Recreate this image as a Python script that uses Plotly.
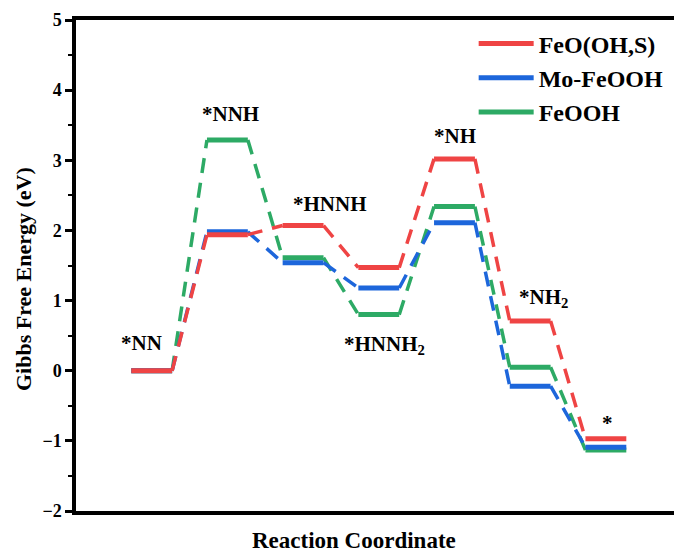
import plotly.graph_objects as go

states = ["*NN", "*NNH", "*HNNH", "*HNNH<sub>2</sub>", "*NH", "*NH<sub>2</sub>", "*"]
feo_ohs = [0, 1.94, 2.07, 1.47, 3.02, 0.71, -0.97]
mo_feooh = [0, 1.98, 1.54, 1.18, 2.11, -0.22, -1.09]
feooh = [0, 3.29, 1.61, 0.80, 2.34, 0.05, -1.13]

label_x = [0.87, 2.04, 3.36, 4.08, 5.01, 6.18, 7.02]
label_y = [0.40, 3.66, 2.37, 0.36, 3.35, 1.04, -0.74]

series = [
    ("FeOOH", feooh, "#2DAA65", 3),
    ("Mo-FeOOH", mo_feooh, "#1D66DB", 2),
    ("FeO(OH,S)", feo_ohs, "#EF4444", 1),
]

HW = 0.27
FONT = "Times New Roman"

fig = go.Figure()
for name, vals, color, rank in series:
    lx, ly = [], []
    for i, v in enumerate(vals):
        c = i + 1
        lx += [c - HW, c + HW, None]
        ly += [v, v, None]
    cx, cy = [], []
    for i in range(len(vals) - 1):
        cx += [i + 1 + HW, i + 2 - HW, None]
        cy += [vals[i], vals[i + 1], None]
    fig.add_trace(go.Scatter(x=cx, y=cy, mode="lines", showlegend=False,
                             line=dict(color=color, width=3.5, dash="15px,10px"),
                             hoverinfo="skip"))
    fig.add_trace(go.Scatter(x=lx, y=ly, mode="lines", name=name, legendrank=rank,
                             line=dict(color=color, width=5)))

for s, x, y in zip(states, label_x, label_y):
    fig.add_annotation(x=x, y=y, text=s, showarrow=False,
                       font=dict(family=FONT, size=21, color="black", weight="bold"))

fig.add_annotation(x=0.465, y=-0.061, xref="paper", yref="paper", showarrow=False,
                   xanchor="center", yanchor="middle",
                   text="Reaction Coordinate",
                   font=dict(family=FONT, size=23, color="black", weight="bold"))
fig.add_annotation(x=-0.0886, y=0.4725, xref="paper", yref="paper", showarrow=False,
                   xanchor="center", yanchor="middle",
                   text="Gibbs Free Energy (eV)", textangle=-90,
                   font=dict(family=FONT, size=22, color="black", weight="bold"))

fig.update_layout(
    width=674, height=553,
    margin=dict(l=76, r=0, t=20, b=42),
    paper_bgcolor="white", plot_bgcolor="white",
    font=dict(family=FONT, color="black"),
    legend=dict(x=0.665, y=0.997, xanchor="left", yanchor="top",
                font=dict(family=FONT, size=24, color="black", weight="bold"),
                itemwidth=55, tracegroupgap=0, bgcolor="rgba(0,0,0,0)"),
    xaxis=dict(range=[0, 7.9], showline=True, linecolor="black", linewidth=3.5,
               mirror=True, showticklabels=False, ticks="", showgrid=False,
               zeroline=False),
    yaxis=dict(range=[-2, 5], showline=True, linecolor="black", linewidth=3.5,
               ticks="outside", ticklen=7, tickwidth=2.5, tickcolor="black",
               dtick=1, showgrid=False, zeroline=False,
               minor=dict(ticks="outside", ticklen=4, tickwidth=2, dtick=0.5,
                          tickcolor="black", showgrid=False),
               tickfont=dict(family=FONT, size=18, color="black", weight="bold")),
)

fig.write_html("out.html")
